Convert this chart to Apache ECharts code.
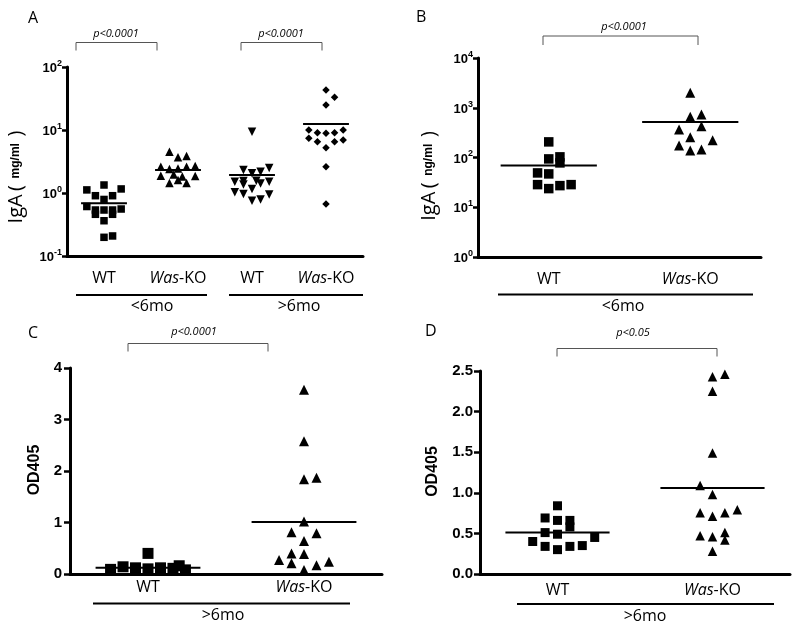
<!DOCTYPE html>
<html>
<head>
<meta charset="utf-8">
<script src="https://cdn.jsdelivr.net/npm/echarts@6/dist/echarts.min.js"></script>
<style>html,body{margin:0;padding:0;background:#fff}#c{width:800px;height:631px}</style>
</head>
<body>
<div id="c"></div>
<script>
// ---------- Panel A : IgA (mg/ml), log scale ----------
const catsA = ['WT', 'Was-KO', 'WT', 'Was-KO'];
const agesA = ['<6mo', '>6mo'];
const aWTyoung = [1.34, 1.12, 1.16, 0.906, 0.906, 0.79, 0.61, 0.557, 0.537, 0.537, 0.537, 0.459, 0.459, 0.363, 0.198, 0.208];
const aWTyoungSlot = [0, -2, 2, -1, 1, 0, -2, 2, -1, 0, 1, -1, 1, 0, 0, 1];
const aKOyoung = [4.53, 3.69, 3.87, 2.61, 2.40, 2.45, 2.61, 2.68, 1.88, 1.97, 1.83, 1.86, 1.44, 1.61, 1.44];
const aKOyoungSlot = [-1, 0, 1, -2, -1, 0, 1, 2, -2, -0.5, 0.5, 2, -1, 0, 1];
const aWTold = [9.4, 2.32, 2.05, 2.18, 2.49, 1.51, 1.55, 1.36, 1.57, 1.42, 1.51, 1.03, 0.96, 1.16, 0.95, 0.75, 0.79];
const aWToldSlot = [0, -1, 0, 1, 2, -2, -1, -1, 0.5, 1, 2, -2, -1, 0, 2, 0, 1];
const aKOold = [43.1, 33.0, 24.9, 10.0, 9.06, 8.86, 9.06, 10.0, 7.38, 6.52, 6.52, 6.94, 5.24, 2.61, 0.669];
const aKOoldSlot = [0, 1, 0, -2, -1, 0, 1, 2, -2, -1, 1, 2, 0, 0, 0];
const aMeans = [0.69, 2.32, 1.93, 12.4];

// ---------- Panel B : IgA (ng/ml), log scale ----------
const catsB = ['WT', 'Was-KO'];
const agesB = ['<6mo'];
const bWT = [206, 93.7, 103, 77.9, 49.0, 46.8, 28.5, 23.7, 27.2, 28.5];
const bWTSlot = [0, 0, 1, 1, -1, 0, -1, 0, 1, 2];
const bKO = [1995, 656, 730, 424, 364, 255, 222, 174, 138, 144];
const bKOSlot = [0, 0, 1, 1, -1, 0, 2, -1, 0, 1];
const bMeans = [68.7, 520];

// ---------- Panel C : OD405 ----------
const catsC = ['WT', 'Was-KO'];
const agesC = ['>6mo'];
const cWT = [0.40, 0.09, 0.14, 0.12, 0.10, 0.12, 0.11, 0.16, 0.08];
const cWTSlot = [0, -3, -2, -1, 0, 1, 2, 2.5, 3];
const cKO = [3.58, 2.58, 1.84, 1.87, 1.02, 0.81, 0.79, 0.64, 0.40, 0.39, 0.27, 0.21, 0.17, 0.24, 0.08];
const cKOSlot = [0, 0, 0, 1, 0, -1, 1, 0, -1, 0, -2, -1, 1, 2, 0];
const cMeans = [0.12, 1.01];

// ---------- Panel D : OD405 ----------
const catsD = ['WT', 'Was-KO'];
const agesD = ['>6mo'];
const dWT = [0.84, 0.69, 0.66, 0.66, 0.58, 0.51, 0.49, 0.40, 0.45, 0.34, 0.30, 0.34, 0.35];
const dWTSlot = [0, -1, 0, 1, 1, -1, 0, -2, 3, -1, 0, 1, 2];
const dKO = [2.43, 2.46, 2.25, 1.49, 1.09, 0.98, 0.755, 0.71, 0.755, 0.79, 0.47, 0.46, 0.51, 0.42, 0.28];
const dKOSlot = [0, 1, 0, 0, -1, 0, -1, 0, 1, 2, -1, 0, 1, 1, 0];
const dMeans = [0.51, 1.06];

const pA = ['p<0.0001', 'p<0.0001'];
const pB = 'p<0.0001';
const pC = 'p<0.0001';
const pD = 'p<0.05';

// ---------- layout ----------
const layout = [
  { grid: { left: 67, top: 67, width: 296, height: 189 }, step: 0.116, half: 0.31, labMargin: 14 },
  { grid: { left: 478, top: 58, width: 283, height: 199 }, step: 0.079, half: 0.34, labMargin: 14 },
  { grid: { left: 70, top: 368, width: 312, height: 206 }, step: 0.08, half: 0.336, labMargin: 5 },
  { grid: { left: 480, top: 371, width: 310, height: 203 }, step: 0.08, half: 0.336, labMargin: 8 }
];

const BLACK = '#000';
const SANS = 'Open Sans';
const ARIAL = 'Liberation Sans';

function xAxisFor(i, cats) {
  return {
    type: 'value', gridIndex: i, min: -0.5, max: cats.length - 0.5,
    splitLine: { show: false },
    axisTick: { show: false },
    axisLine: { show: true, onZero: false, lineStyle: { color: BLACK, width: 3 } },
    axisLabel: {
      customValues: cats.map((c, k) => k),
      margin: layout[i].labMargin,
      color: BLACK, fontSize: 16, fontFamily: SANS,
      formatter: v => {
        const c = cats[Math.round(v)];
        return c === 'Was-KO' ? '{i|Was}{n|-KO}' : '{n|' + c + '}';
      },
      rich: {
        i: { fontStyle: 'italic', fontSize: 16, fontFamily: SANS, color: BLACK },
        n: { fontSize: 16, fontFamily: SANS, color: BLACK }
      }
    }
  };
}

const supRich = {
  b: { fontSize: 13, fontWeight: 'bold', fontFamily: ARIAL, color: BLACK, lineHeight: 16, verticalAlign: 'bottom' },
  s: { fontSize: 9, fontWeight: 'bold', fontFamily: ARIAL, color: BLACK, lineHeight: 16, verticalAlign: 'top' }
};
function logYAxis(i, min, max, margin) {
  return {
    type: 'log', logBase: 10, gridIndex: i, min, max,
    splitLine: { show: false },
    axisLine: { show: true, onZero: false, lineStyle: { color: BLACK, width: 3 } },
    axisTick: { show: true, length: 5, lineStyle: { color: BLACK, width: 2.5 } },
    minorTick: { show: false },
    axisLabel: {
      margin,
      formatter: v => '{b|10}{s|' + Math.round(Math.log10(v)) + '}',
      rich: supRich
    }
  };
}
function linYAxis(i, max, interval, digits, margin) {
  return {
    type: 'value', gridIndex: i, min: 0, max, interval,
    splitLine: { show: false },
    axisLine: { show: true, onZero: false, lineStyle: { color: BLACK, width: 3 } },
    axisTick: { show: true, length: 6, lineStyle: { color: BLACK, width: 2.5 } },
    axisLabel: {
      margin, color: BLACK, fontSize: 15, fontWeight: 'bold', fontFamily: ARIAL,
      formatter: v => v.toFixed(digits)
    }
  };
}

function dots(panel, g, vals, slots, symbol, size, rotate) {
  return {
    type: 'scatter', xAxisIndex: panel, yAxisIndex: panel,
    symbol, symbolSize: size, symbolRotate: rotate || 0,
    itemStyle: { color: BLACK, opacity: 1 },
    data: vals.map((v, k) => [g + slots[k] * layout[panel].step, v]),
    z: 3, silent: true
  };
}
function meanLine(panel, g, m) {
  const h = layout[panel].half;
  return {
    type: 'line', xAxisIndex: panel, yAxisIndex: panel,
    data: [[g - h, m], [g + h, m]], symbol: 'none',
    lineStyle: { color: BLACK, width: 2 }, z: 2, silent: true
  };
}

const series = [
  dots(0, 0, aWTyoung, aWTyoungSlot, 'rect', 7.5),
  dots(0, 1, aKOyoung, aKOyoungSlot, 'triangle', 8.5),
  dots(0, 2, aWTold, aWToldSlot, 'triangle', 8.5, 180),
  dots(0, 3, aKOold, aKOoldSlot, 'diamond', 7.5),
  ...aMeans.map((m, g) => meanLine(0, g, m)),
  dots(1, 0, bWT, bWTSlot, 'rect', 9.5),
  dots(1, 1, bKO, bKOSlot, 'triangle', 10),
  ...bMeans.map((m, g) => meanLine(1, g, m)),
  dots(2, 0, cWT, cWTSlot, 'rect', 11),
  dots(2, 1, cKO, cKOSlot, 'triangle', 10),
  ...cMeans.map((m, g) => meanLine(2, g, m)),
  dots(3, 0, dWT, dWTSlot, 'rect', 9),
  dots(3, 1, dKO, dKOSlot, 'triangle', 9.5),
  ...dMeans.map((m, g) => meanLine(3, g, m))
];

function txt(x, y, text, font, align, extra) {
  return Object.assign({
    type: 'text', x, y, silent: true,
    style: { text, font, fill: BLACK, align: align || 'center', verticalAlign: 'middle', textAlign: align || 'center', textVerticalAlign: 'middle' }
  }, extra || {});
}
function bracket(x1, x2, y, drop) {
  return {
    type: 'polyline', silent: true,
    shape: { points: [[x1, y + drop], [x1, y], [x2, y], [x2, y + drop]] },
    style: { stroke: '#555', lineWidth: 1, fill: null }
  };
}
function hline(x1, x2, y) {
  return { type: 'line', silent: true, shape: { x1, y1: y, x2, y2: y }, style: { stroke: BLACK, lineWidth: 2 } };
}
function yName(x, y, rich, text) {
  return {
    type: 'text', x, y, rotation: Math.PI / 2, silent: true,
    style: { text, rich, fill: BLACK, align: 'center', verticalAlign: 'middle', textAlign: 'center', textVerticalAlign: 'middle' }
  };
}
const igRich = {
  a: { fontSize: 20, fontFamily: SANS, color: BLACK, lineHeight: 22, verticalAlign: 'middle' },
  u: { fontSize: 12, fontWeight: 'bold', fontFamily: ARIAL, color: BLACK, lineHeight: 22, verticalAlign: 'middle' }
};

const graphic = [
  // panel letters
  txt(28, 18, 'A', '16px "Open Sans"', 'left'),
  txt(416, 17, 'B', '16px "Open Sans"', 'left'),
  txt(28, 333, 'C', '16px "Open Sans"', 'left'),
  txt(425, 331, 'D', '16px "Open Sans"', 'left'),
  // significance
  bracket(76, 157, 42.5, 8), txt(116, 34, pA[0], 'italic 11px "Open Sans"'),
  bracket(241, 322, 42.5, 8), txt(281, 34, pA[1], 'italic 11px "Open Sans"'),
  bracket(543, 698, 36, 9), txt(624, 26.5, pB, 'italic 11px "Open Sans"'),
  bracket(128, 268, 343.5, 8), txt(194, 332, pC, 'italic 11px "Open Sans"'),
  bracket(557, 717, 348.5, 8), txt(633, 333, pD, 'italic 11px "Open Sans"'),
  // group underlines and labels
  hline(76, 207, 295), txt(152, 306, agesA[0], '16px "Open Sans"'),
  hline(229, 363, 295), txt(299, 306, agesA[1], '16px "Open Sans"'),
  hline(498, 753, 294.5), txt(623, 306, agesB[0], '16px "Open Sans"'),
  hline(93, 350, 603.5), txt(223, 615, agesC[0], '16px "Open Sans"'),
  hline(517, 774, 604), txt(645, 616.5, agesD[0], '16px "Open Sans"'),
  // y axis names
  yName(16, 177, igRich, '{a|IgA} {a|(}  {u|mg/ml}  {a|)}'),
  yName(429, 176, igRich, '{a|IgA} {a|(}  {u|ng/ml}  {a|)}'),
  yName(35, 470, null, 'OD405'),
  yName(433, 471.5, null, 'OD405')
];
graphic[graphic.length - 1].style.font = 'bold 16px "Liberation Sans"';
graphic[graphic.length - 2].style.font = 'bold 16px "Liberation Sans"';

const chart = echarts.init(document.getElementById('c'), null, { renderer: 'canvas' });
chart.setOption({
  animation: false,
  backgroundColor: '#fff',
  grid: layout.map(l => Object.assign({ containLabel: false }, l.grid)),
  xAxis: [xAxisFor(0, catsA), xAxisFor(1, catsB), xAxisFor(2, catsC), xAxisFor(3, catsD)],
  yAxis: [
    logYAxis(0, 0.1, 100, 5),
    logYAxis(1, 1, 10000, 5),
    linYAxis(2, 4, 1, 0, 8),
    linYAxis(3, 2.5, 0.5, 1, 7)
  ],
  series,
  graphic: { elements: graphic }
});
</script>
</body>
</html>
